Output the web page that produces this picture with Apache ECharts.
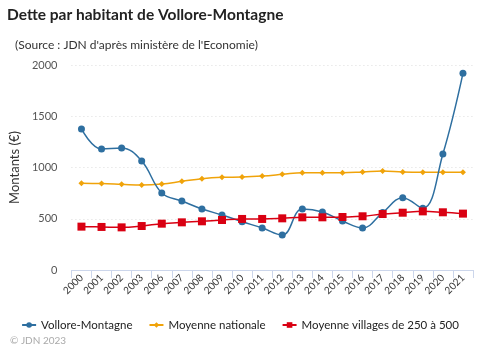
<!DOCTYPE html>
<html><head><meta charset="utf-8">
<script src="https://cdn.jsdelivr.net/npm/echarts@6/dist/echarts.min.js"></script>
<style>html,body{margin:0;padding:0;background:#fff}#c{width:480px;height:347px}</style>
</head><body><div id="c"></div>
<script>
const categories = ["2000","2001","2002","2003","2006","2007","2008","2009","2010","2011","2012","2013","2014","2015","2016","2017","2018","2019","2020","2021"];
const vollore = [1376,1180,1190,1063,751,673,595,537,471,410,341,595,566,478,410,560,706,602,1132,1919];
const nationale = [846,843,836,829,839,865,891,904,907,917,933,950,948,948,956,966,956,953,953,953];
const villages = [423,420,416,429,452,465,475,488,498,498,504,514,514,517,524,546,559,572,563,550];
const yTicks = [0,500,1000,1500,2000];

const F = 'Lato, "Open Sans", sans-serif';
const chart = echarts.init(document.getElementById('c'), null, {renderer:'canvas'});
chart.setOption({
  animation:false,
  title:[
    {text:'Dette par habitant de Vollore-Montagne', left:2, top:2,
     textStyle:{fontFamily:F, fontSize:15.5, fontWeight:'bold', color:'#222'}},
    {text:'(Source : JDN d\'après ministère de l\'Economie)', left:10, top:34,
     textStyle:{fontFamily:F, fontSize:12, fontWeight:'normal', color:'#333'}},
    {text:'© JDN 2023', left:5, top:331,
     textStyle:{fontFamily:F, fontSize:10, fontWeight:'normal', color:'#aaa'}}
  ],
  legend:{top:314, left:'center', itemWidth:14, itemHeight:7, itemGap:16,
    textStyle:{fontFamily:F, fontSize:11.5, color:'#222'},
    data:['Vollore-Montagne','Moyenne nationale','Moyenne villages de 250 à 500']},
  grid:{left:65, right:7, top:65, bottom:77, containLabel:false},
  xAxis:{type:'category', data:categories, boundaryGap:true,
    axisLine:{lineStyle:{color:'#ccd6eb'}},
    axisTick:{show:true, alignWithLabel:false, length:8, lineStyle:{color:'#ccd6eb'}},
    axisLabel:{rotate:45, interval:0, fontFamily:F, fontSize:10, color:'#333', margin:6}},
  yAxis:{type:'value', min:yTicks[0], max:yTicks[yTicks.length-1], interval:500,
    name:'Montants (€)', nameLocation:'middle', nameGap:38, nameRotate:90,
    nameTextStyle:{fontFamily:F, fontSize:13, color:'#333'},
    axisLine:{show:false}, axisTick:{show:false},
    axisLabel:{fontFamily:F, fontSize:11, color:'#555', margin:14, formatter:function(v){return String(v);}},
    splitLine:{lineStyle:{color:'#ddd', type:[1,3]}}},
  series:[
    {name:'Vollore-Montagne', type:'line', data:vollore, smooth:0.4, symbol:'circle', symbolSize:7,
     itemStyle:{color:'#2e6fa0'}, lineStyle:{width:1.5, color:'#2e6fa0'}, z:3},
    {name:'Moyenne nationale', type:'line', data:nationale, smooth:0.4, symbol:'diamond', symbolSize:6,
     itemStyle:{color:'#f0a30a'}, lineStyle:{width:1.5, color:'#f0a30a'}, z:2},
    {name:'Moyenne villages de 250 à 500', type:'line', data:villages, smooth:0.4, symbol:'rect', symbolSize:8,
     itemStyle:{color:'#d90012'}, lineStyle:{width:1.5, color:'#d90012'}, z:4}
  ]
});
</script></body></html>
